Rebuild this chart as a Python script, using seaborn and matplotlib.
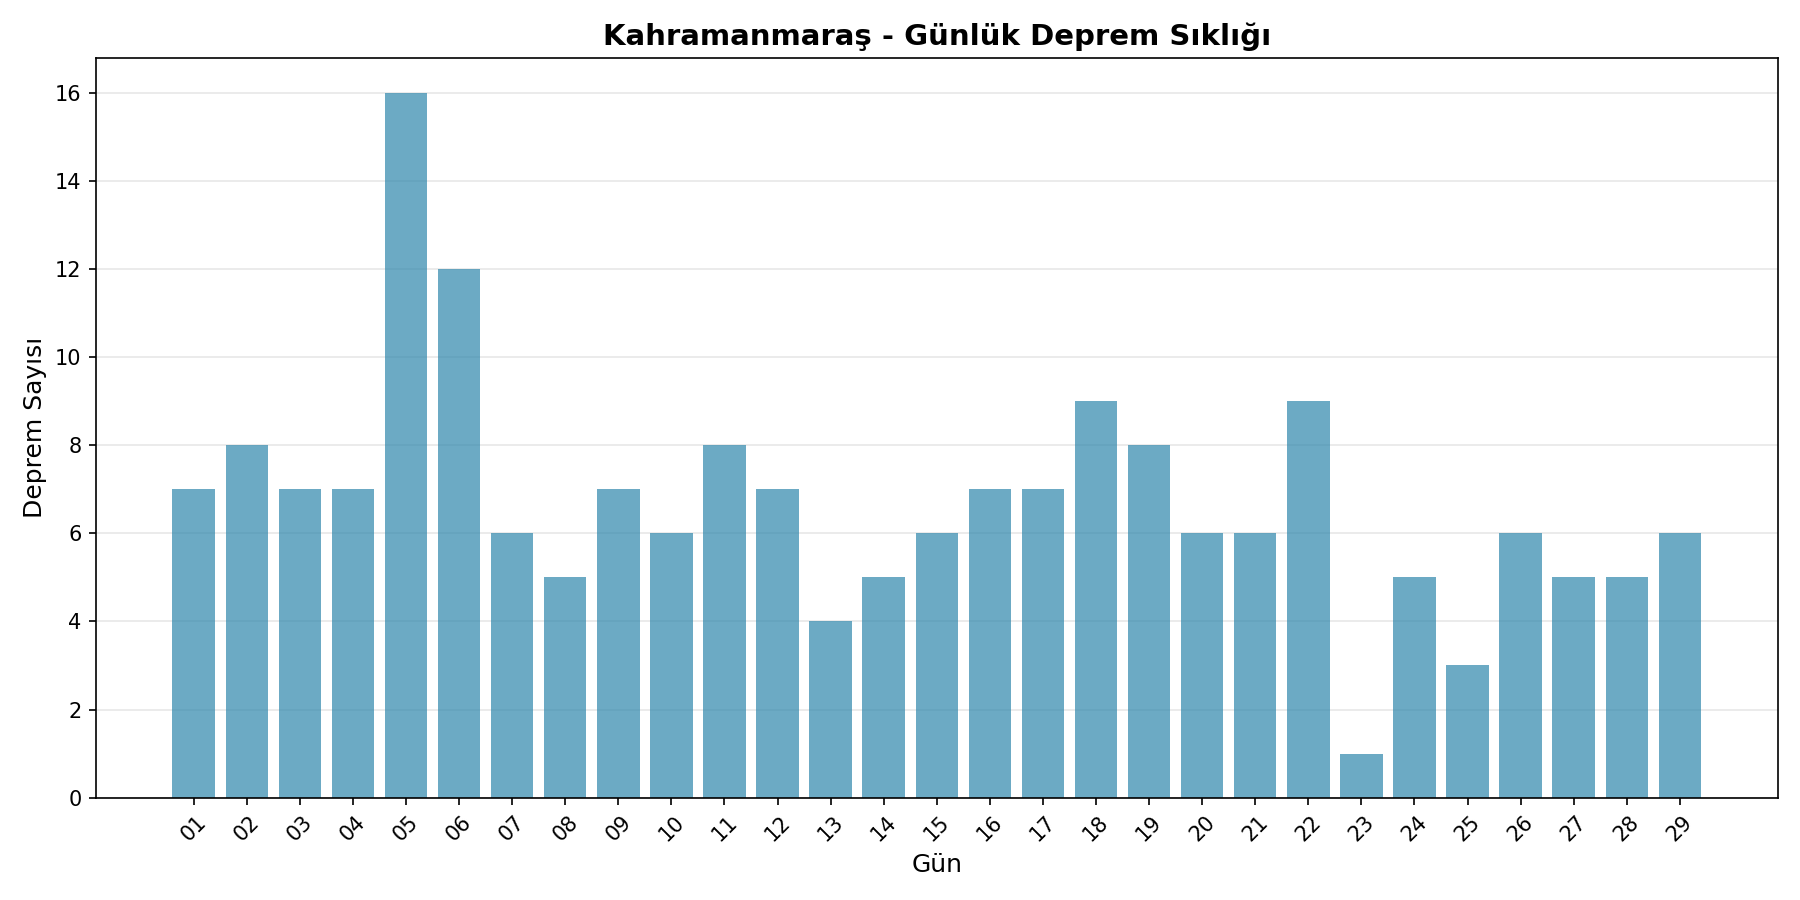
import numpy as np
import pandas as pd
import matplotlib
matplotlib.use("Agg")
import matplotlib.pyplot as plt
import seaborn as sns

days = ["01", "02", "03", "04", "05", "06", "07", "08", "09", "10",
        "11", "12", "13", "14", "15", "16", "17", "18", "19", "20",
        "21", "22", "23", "24", "25", "26", "27", "28", "29"]
counts = [7, 8, 7, 7, 16, 12, 6, 5, 7, 6,
          8, 7, 4, 5, 6, 7, 7, 9, 8, 6,
          6, 9, 1, 5, 3, 6, 5, 5, 6]

df = pd.DataFrame({"Gün": days, "Deprem Sayısı": counts})

fig, ax = plt.subplots(figsize=(12, 6), dpi=150)
sns.barplot(data=df, x="Gün", y="Deprem Sayısı", color="#2E86AB",
            alpha=0.7, saturation=1, width=0.8, ax=ax)

# matplotlib-style padding around the bars
n = len(days)
pad = 0.05 * (n - 1 + 0.8)
ax.set_xlim(-0.4 - pad, n - 1 + 0.4 + pad)
ax.set_ylim(0, max(counts) * 1.05)

ax.set_title("Kahramanmaraş - Günlük Deprem Sıklığı", fontsize=14, fontweight="bold")
ax.set_xlabel("Gün", fontsize=12)
ax.set_ylabel("Deprem Sayısı", fontsize=12)
ax.tick_params(axis="x", rotation=45)
ax.grid(axis="y", alpha=0.3)
ax.set_axisbelow(True)

plt.tight_layout()
plt.savefig("out.png", dpi=150)
